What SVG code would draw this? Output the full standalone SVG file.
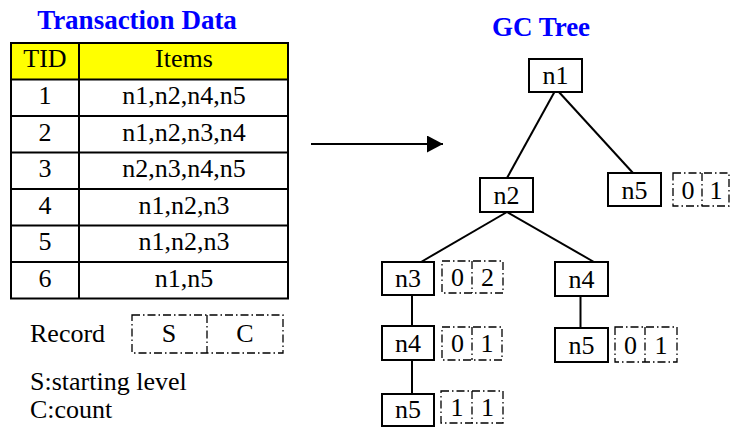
<svg xmlns="http://www.w3.org/2000/svg" width="730" height="427" viewBox="0 0 730 427" font-family="'Liberation Serif', Tinos, 'Nimbus Roman', 'DejaVu Serif', serif">
  <style>
    text { fill: #000; }
    .title { font-size: 27px; font-weight: bold; fill: #0000ff; text-anchor: middle; }
    .cell { font-size: 26px; text-anchor: middle; }
    .lbl { font-size: 26px; }
    .node rect { fill: #fff; stroke: #000; stroke-width: 2; }
    .node text { font-size: 26px; text-anchor: middle; }
    .rec rect, .rec line { fill: none; stroke: #000; stroke-width: 1.3; stroke-dasharray: 8 3 1.5 3; }
    .rec text { font-size: 26px; text-anchor: middle; }
    .grid { fill: none; stroke: #000; stroke-width: 2; }
    .edge { stroke: #000; stroke-width: 2; fill: none; }
  </style>
  <defs>
    <marker id="arrow" markerWidth="16" markerHeight="17" refX="16" refY="8.5" orient="auto" markerUnits="userSpaceOnUse">
      <path d="M0,0 L16,8.5 L0,17 Z" fill="#000"/>
    </marker>
  </defs>

  <!-- transaction table -->
  <g id="table">
    <text class="title" x="137" y="29">Transaction Data</text>
    <rect x="11" y="43" width="277" height="36.5" fill="#ffff00"/>
    <rect class="grid" x="11" y="43" width="277" height="255.5"/>
    <line class="grid" x1="79" y1="43" x2="79" y2="298.5"/>
    <line class="grid" x1="11" y1="79.5" x2="288" y2="79.5"/>
    <line class="grid" x1="11" y1="116" x2="288" y2="116"/>
    <line class="grid" x1="11" y1="152.5" x2="288" y2="152.5"/>
    <line class="grid" x1="11" y1="189" x2="288" y2="189"/>
    <line class="grid" x1="11" y1="225.5" x2="288" y2="225.5"/>
    <line class="grid" x1="11" y1="262" x2="288" y2="262"/>
    <text class="cell" x="45" y="67">TID</text>
    <text class="cell" x="184" y="67">Items</text>
    <text class="cell" x="45" y="104">1</text>
    <text class="cell" x="184" y="104">n1,n2,n4,n5</text>
    <text class="cell" x="45" y="140.5">2</text>
    <text class="cell" x="184" y="140.5">n1,n2,n3,n4</text>
    <text class="cell" x="45" y="177">3</text>
    <text class="cell" x="184" y="177">n2,n3,n4,n5</text>
    <text class="cell" x="45" y="213.5">4</text>
    <text class="cell" x="184" y="213.5">n1,n2,n3</text>
    <text class="cell" x="45" y="250">5</text>
    <text class="cell" x="184" y="250">n1,n2,n3</text>
    <text class="cell" x="45" y="286.5">6</text>
    <text class="cell" x="184" y="286.5">n1,n5</text>
  </g>

  <!-- legend -->
  <g id="legend">
    <text class="lbl" x="30" y="342">Record</text>
    <g class="rec">
      <rect x="132" y="315" width="151" height="38"/>
      <line x1="207" y1="315" x2="207" y2="353"/>
      <text x="169" y="342">S</text>
      <text x="245" y="342">C</text>
    </g>
    <text class="lbl" x="30" y="390">S:starting level</text>
    <text class="lbl" x="30" y="418">C:count</text>
  </g>

  <!-- tree title -->
  <text class="title" x="541" y="36">GC Tree</text>

  <!-- connectors -->
  <g id="connectors">
    <line class="edge" x1="311" y1="144" x2="443" y2="144" marker-end="url(#arrow)"/>
    <line class="edge" x1="555" y1="91" x2="507" y2="178"/>
    <line class="edge" x1="558" y1="91" x2="633" y2="173"/>
    <line class="edge" x1="507" y1="212" x2="421" y2="262"/>
    <line class="edge" x1="507" y1="212" x2="594" y2="262"/>
    <line class="edge" x1="412" y1="295" x2="412" y2="326"/>
    <line class="edge" x1="412" y1="360" x2="412" y2="394"/>
    <line class="edge" x1="580.5" y1="296" x2="580.5" y2="328"/>
  </g>

  <!-- tree nodes -->
  <g id="n1" class="node">
    <rect x="529" y="59" width="53" height="33"/>
    <text x="555.5" y="84">n1</text>
  </g>
  <g id="n2" class="node">
    <rect x="480" y="178" width="53" height="34"/>
    <text x="506.5" y="204">n2</text>
  </g>
  <g id="n5-top" class="node">
    <rect x="608" y="173" width="53" height="33"/>
    <text x="634.5" y="199">n5</text>
    <g class="rec">
      <rect x="673" y="173" width="56" height="33"/>
      <line x1="702" y1="173" x2="702" y2="206"/>
      <text x="688" y="199">0</text>
      <text x="716" y="199">1</text>
    </g>
  </g>
  <g id="n3" class="node">
    <rect x="382" y="262" width="52" height="33"/>
    <text x="408" y="287">n3</text>
    <g class="rec">
      <rect x="442" y="261" width="61" height="32"/>
      <line x1="472" y1="261" x2="472" y2="293"/>
      <text x="457.5" y="286">0</text>
      <text x="487.5" y="286">2</text>
    </g>
  </g>
  <g id="n4-right" class="node">
    <rect x="555" y="262" width="53" height="34"/>
    <text x="581.5" y="288">n4</text>
  </g>
  <g id="n4-left" class="node">
    <rect x="382" y="326" width="52" height="34"/>
    <text x="408" y="352">n4</text>
    <g class="rec">
      <rect x="442" y="327" width="60" height="33"/>
      <line x1="472" y1="327" x2="472" y2="360"/>
      <text x="457.5" y="352">0</text>
      <text x="487" y="352">1</text>
    </g>
  </g>
  <g id="n5-right" class="node">
    <rect x="555" y="328" width="53" height="34"/>
    <text x="581.5" y="354">n5</text>
    <g class="rec">
      <rect x="615" y="327" width="62" height="35"/>
      <line x1="645" y1="327" x2="645" y2="362"/>
      <text x="630.5" y="354">0</text>
      <text x="661" y="354">1</text>
    </g>
  </g>
  <g id="n5-bottom" class="node">
    <rect x="382" y="394" width="52" height="32"/>
    <text x="408" y="418">n5</text>
    <g class="rec">
      <rect x="441" y="391" width="62" height="32"/>
      <line x1="472" y1="391" x2="472" y2="423"/>
      <text x="457" y="416">1</text>
      <text x="487.5" y="416">1</text>
    </g>
  </g>
</svg>
